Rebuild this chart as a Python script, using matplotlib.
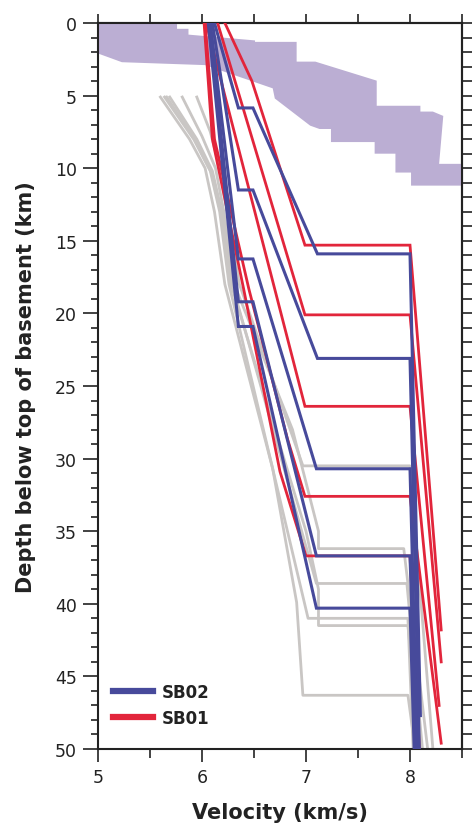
import numpy as np
import matplotlib
matplotlib.use("Agg")
import matplotlib.pyplot as plt
from matplotlib.ticker import MultipleLocator, NullFormatter

# --- data (velocity km/s, depth km) ---
# purple band
band_vel = [5.0, 5.76, 5.76, 5.87, 5.87, 6.51, 6.51, 6.91, 6.91, 7.09, 7.68, 7.68, 8.10, 8.10,
            8.22, 8.32, 8.28, 8.5, 8.5, 8.01, 8.01, 7.86, 7.86, 7.66, 7.66, 7.24, 7.24, 7.13,
            7.04, 6.70, 6.68, 6.03, 5.23, 5.0]
band_dep = [0.0, 0.0, 0.4, 0.4, 0.8, 1.2, 1.3, 1.3, 2.66, 2.66, 3.97, 5.7, 5.7, 6.1,
            6.1, 6.4, 9.7, 9.7, 11.2, 11.2, 10.3, 10.3, 9.0, 9.0, 8.2, 8.2, 7.3, 7.3,
            7.07, 5.2, 4.5, 2.9, 2.7, 2.1]

# SB02 profiles
sb02_vel = [
    [6.12, 6.35, 6.49, 7.11, 8.00, 8.10],
    [6.10, 6.35, 6.49, 7.11, 8.00, 8.09],
    [6.08, 6.35, 6.49, 7.10, 8.00, 8.07],
    [6.07, 6.35, 6.49, 7.10, 8.00, 8.06],
    [6.06, 6.35, 6.49, 7.10, 8.00, 8.04],
]
sb02_dep = [
    [0.0, 5.85, 5.85, 15.9, 15.9, 47.7],
    [0.0, 11.5, 11.5, 23.1, 23.1, 50.0],
    [0.0, 16.25, 16.25, 30.7, 30.7, 50.0],
    [0.0, 19.2, 19.2, 36.7, 36.7, 50.0],
    [0.0, 20.9, 20.9, 40.3, 40.3, 50.0],
]

# SB01 profiles
sb01_vel = [
    [6.22, 6.48, 6.99, 8.00, 8.30],
    [6.15, 6.99, 8.00, 8.30],
    [6.04, 6.99, 8.00, 8.28],
    [6.03, 6.12, 6.45, 6.82, 6.99, 8.00, 8.30],
    [6.02, 6.10, 6.40, 6.75, 7.00, 8.00, 8.09],
]
sb01_dep = [
    [0.0, 4.0, 15.3, 15.3, 41.8],
    [0.0, 20.1, 20.1, 44.0],
    [0.0, 26.4, 26.4, 47.0],
    [0.0, 8.0, 18.3, 28.6, 32.6, 32.6, 49.6],
    [0.0, 8.0, 18.3, 30.9, 36.7, 36.7, 50.0],
]

# other (grey) profiles
grey_vel = [
    [5.95, 6.08, 6.17, 6.24, 6.36, 6.97, 8.00, 8.22],
    [5.81, 6.00, 6.13, 6.21, 6.31, 6.87, 7.12, 7.12, 7.94, 8.17],
    [5.69, 5.95, 6.10, 6.19, 6.29, 7.10, 7.97, 8.12],
    [5.64, 5.92, 6.08, 6.17, 6.26, 7.02, 7.98, 8.03],
    [5.66, 5.93, 6.09, 6.18, 6.28, 7.00, 7.12, 7.12, 7.98, 8.10],
    [5.60, 5.88, 6.03, 6.12, 6.22, 6.68, 6.91, 6.97, 7.98, 8.05],
]
grey_dep = [
    [5.1, 7.5, 10.0, 13.0, 18.0, 30.5, 30.5, 50.0],
    [5.1, 7.8, 10.0, 13.0, 18.0, 28.0, 35.0, 36.2, 36.2, 50.0],
    [5.1, 8.0, 10.2, 13.0, 18.0, 38.6, 38.6, 50.0],
    [5.1, 8.0, 10.2, 13.0, 18.0, 41.0, 41.0, 50.0],
    [5.1, 8.0, 10.3, 13.0, 18.0, 35.0, 39.0, 41.5, 41.5, 50.0],
    [5.1, 8.0, 10.0, 13.0, 18.0, 30.7, 39.9, 46.3, 46.3, 50.0],
]

BLUE = "#474a9b"
RED = "#e2253b"
GREY = "#c9c6c4"
PURPLE = "#bbaed3"
INK = "#222222"

fig = plt.figure(figsize=(4.74, 8.29), dpi=100)
ax = fig.add_axes([98 / 474, 79 / 829, 364 / 474, 726 / 829])

ax.fill(band_vel, band_dep, color=PURPLE, lw=0, zorder=1)
for v, d in zip(grey_vel, grey_dep):
    ax.plot(v, d, color=GREY, lw=2.0, zorder=2)
for v, d in zip(sb01_vel, sb01_dep):
    ax.plot(v, d, color=RED, lw=2.0, zorder=3, solid_joinstyle="miter")
for v, d in zip(sb02_vel, sb02_dep):
    ax.plot(v, d, color=BLUE, lw=2.2, zorder=4, solid_joinstyle="miter")

h2, = ax.plot([], [], color=BLUE, lw=4.5, label="SB02")
h1, = ax.plot([], [], color=RED, lw=4.5, label="SB01")
leg = ax.legend(handles=[h2, h1], loc="lower left", bbox_to_anchor=(0.0, 0.01),
                frameon=False, handlelength=2.4, handletextpad=0.5,
                labelspacing=0.45, prop={"weight": "bold", "size": 12})
for t in leg.get_texts():
    t.set_color(INK)

ax.set_xlim(5, 8.5)
ax.set_ylim(50, 0)

ax.xaxis.set_major_locator(MultipleLocator(1))
ax.xaxis.set_minor_locator(MultipleLocator(0.5))
ax.yaxis.set_major_locator(MultipleLocator(5))
ax.yaxis.set_minor_locator(MultipleLocator(1))
ax.tick_params(axis="x", which="major", length=9, width=1.2, labelsize=12.5,
               colors=INK, pad=5)
ax.tick_params(axis="x", which="minor", length=6.5, width=1.2, colors=INK)
ax.tick_params(axis="y", which="major", length=11, width=1.2, labelsize=12.5,
               colors=INK, pad=4)
ax.tick_params(axis="y", which="minor", length=5, width=1.2, colors=INK)

top = ax.secondary_xaxis("top")
top.xaxis.set_major_locator(MultipleLocator(0.5))
top.xaxis.set_major_formatter(NullFormatter())
top.tick_params(length=6.5, width=1.2, colors=INK)

right = ax.secondary_yaxis("right")
right.yaxis.set_major_locator(MultipleLocator(1))
right.yaxis.set_major_formatter(NullFormatter())
right.tick_params(length=7, width=1.2, colors=INK)

for a in (ax, top, right):
    for s in a.spines.values():
        s.set_linewidth(1.5)
        s.set_color(INK)

ax.set_xlabel("Velocity (km/s)", fontsize=15, fontweight="bold", color=INK, labelpad=11)
ax.set_ylabel("Depth below top of basement (km)", fontsize=15, fontweight="bold",
              color=INK, labelpad=14)

fig.savefig("out.png", dpi=100)
